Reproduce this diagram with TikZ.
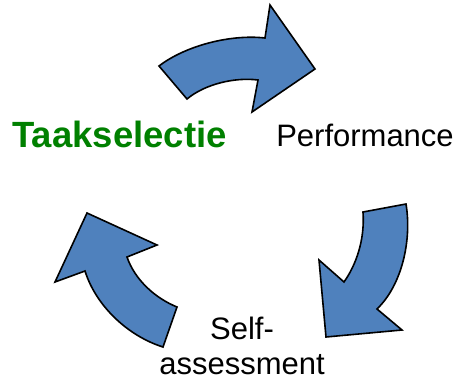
\documentclass[tikz,border=0pt]{standalone}
\usepackage{fontspec}
\setmainfont{Liberation Sans}
\definecolor{arrowblue}{RGB}{79,129,189}
\definecolor{taakgreen}{RGB}{0,128,0}
\begin{document}
\begin{tikzpicture}[x=1pt,y=-1pt,
  cyclearrow/.style={fill=arrowblue,draw=black,line width=1.6pt,line join=miter},
  lbl/.style={inner sep=0pt,anchor=base,font=\fontsize{31}{35}\selectfont,align=center}]
\useasboundingbox (0,0) rectangle (461,386);
% top arrow
\draw[cyclearrow] (159,66) .. controls (185,46) and (230,34) .. (265,38)
  -- (270,5) -- (315,69) -- (252,112) -- (258,80)
  .. controls (235,77) and (205,84) .. (187,99) -- cycle;
% right arrow
\draw[cyclearrow] (363,212) -- (406,204) .. controls (412,240) and (402,285) .. (377,309)
  -- (402,330) -- (326,337) -- (319,260) -- (344,282)
  .. controls (356,265) and (365,240) .. cycle;
% left arrow
\draw[cyclearrow] (87,213) -- (157,245) -- (127,257)
  .. controls (135,280) and (155,298) .. (177,307)
  -- (163,347) .. controls (128,336) and (96,306) .. (85,271)
  -- (55,282) -- cycle;
\node[lbl,font=\fontsize{36.5}{40}\selectfont\bfseries,text=taakgreen] (taak) at (119.5,147) {Taakselectie};
\node[lbl] (perf) at (365,146.5) {Performance};
\node[lbl,anchor=base] (self) at (242,339) {Self-};
\node[lbl,anchor=base] (assess) at (242,374) {assessment};
\end{tikzpicture}
\end{document}
